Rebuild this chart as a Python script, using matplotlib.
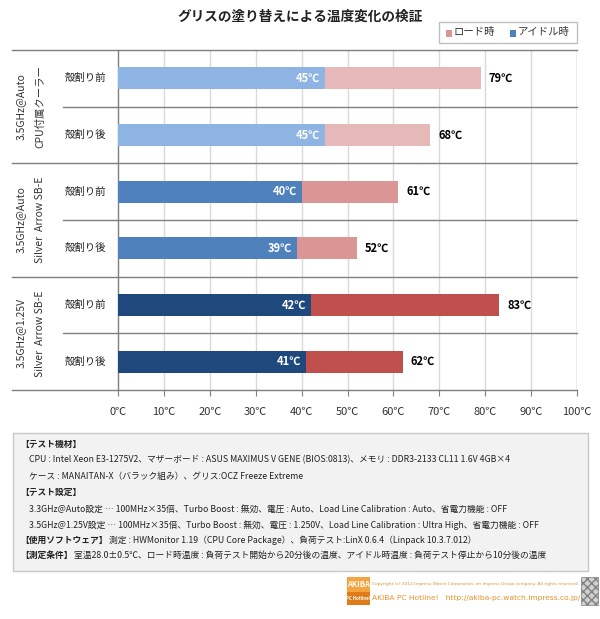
import matplotlib
matplotlib.use("Agg")
import matplotlib.pyplot as plt
from matplotlib.patches import Rectangle
from matplotlib.lines import Line2D
import matplotlib.transforms as mtransforms

plt.rcParams['font.family'] = ['Noto Sans CJK JP', 'DejaVu Sans']

# ---- data ----
title = "グリスの塗り替えによる温度変化の検証"
rows = ["殻割り前", "殻割り後", "殻割り前", "殻割り後", "殻割り前", "殻割り後"]
groups_line1 = ["3.5GHz@Auto", "3.5GHz@Auto", "3.5GHz@1.25V"]
groups_line2 = ["CPU付属クーラー", "Silver  Arrow SB-E", "Silver  Arrow SB-E"]
idle = [45, 45, 40, 39, 42, 41]
load = [79, 68, 61, 52, 83, 62]
xticks = [0, 10, 20, 30, 40, 50, 60, 70, 80, 90, 100]
xtick_labels = [f"{v}℃" for v in xticks]
legend_labels = ["ロード時", "アイドル時"]

idle_colors = ["#8DB4E2", "#8DB4E2", "#4F81BD", "#4F81BD", "#1F497D", "#1F497D"]
load_colors = ["#E6B9B8", "#E6B9B8", "#D99694", "#D99694", "#C0504D", "#C0504D"]

info_lines = [
    ("【テスト機材】", True, 20),
    ("CPU : Intel Xeon E3-1275V2、マザーボード : ASUS MAXIMUS V GENE (BIOS:0813)、メモリ : DDR3-2133 CL11 1.6V 4GB×4", False, 29),
    ("ケース : MANAITAN-X（バラック組み）、グリス:OCZ Freeze Extreme", False, 29),
    ("【テスト設定】", True, 20),
    ("3.3GHz@Auto設定 … 100MHz×35倍、Turbo Boost : 無効、電圧 : Auto、Load Line Calibration : Auto、省電力機能 : OFF", False, 29),
    ("3.5GHz@1.25V設定 … 100MHz×35倍、Turbo Boost : 無効、電圧 : 1.250V、Load Line Calibration : Ultra High、省電力機能 : OFF", False, 29),
]
soft_head = "【使用ソフトウェア】"
soft_body = "測定 : HWMonitor 1.19（CPU Core Package）、負荷テスト:LinX 0.6.4（Linpack 10.3.7.012）"
cond_head = "【測定条件】"
cond_body = "室温28.0±0.5℃、ロード時温度 : 負荷テスト開始から20分後の温度、アイドル時温度 : 負荷テスト停止から10分後の温度"
copyright_text = "Copyright (c) 2012 Impress Watch Corporation, an Impress Group company. All rights reserved."
site_text = "AKIBA PC Hotline!   http://akiba-pc.watch.impress.co.jp/"

W, H = 600, 619
fig = plt.figure(figsize=(W / 100, H / 100), dpi=100)
fig.patch.set_facecolor("white")
fig.canvas.draw()
rend = fig.canvas.get_renderer()


def fx(px):
    return px / W


def fy(py):
    return 1 - py / H


def text_width(t):
    return t.get_window_extent(rend).width


# ---- main axes ----
L, R, T, B = 118, 577, 50, 390
ax = fig.add_axes([fx(L), fy(B), fx(R) - fx(L), fy(T) - fy(B)])
n = len(rows)
ypos = list(range(n))
bh = 0.39
ax.barh(ypos, idle, height=bh, color=idle_colors, zorder=3)
ax.barh(ypos, [l - i for l, i in zip(load, idle)], left=idle, height=bh,
        color=load_colors, zorder=3)
ax.set_xlim(0, 100)
ax.set_ylim(n - 0.5, -0.5)
ax.set_xticks(xticks)
ax.set_xticklabels(xtick_labels, fontsize=8, color="#333333")
ax.set_yticks([])
ax.tick_params(axis="x", length=4, width=0.8, color="#808080", pad=8, direction="out")
for x in xticks[1:]:
    ax.axvline(x, color="#D9D9D9", lw=1, zorder=1)
ax.axvline(100, color="#BFBFBF", lw=1, zorder=1)
for s in ["top", "right", "bottom"]:
    ax.spines[s].set_visible(False)
ax.spines["left"].set_color("#7F7F7F")
ax.spines["left"].set_linewidth(1)

# value labels
for y, (i, l) in enumerate(zip(idle, load)):
    ax.text(i - 1.0, y, f"{i}℃", ha="right", va="center", color="white",
            fontsize=8, fontweight="bold", zorder=4)
    ax.text(l + 1.8, y, f"{l}℃", ha="left", va="center", color="black",
            fontsize=8, fontweight="bold", zorder=4)

# separator lines
blend = mtransforms.blended_transform_factory(ax.transAxes, ax.transData)
x_long = (12 - L) / (R - L)
x_short = (63 - L) / (R - L)
for yb in [-0.5, 1.5, 3.5, 5.5]:
    ax.add_line(Line2D([x_long, 1], [yb, yb], transform=blend, color="#7F7F7F",
                       lw=1, clip_on=False, zorder=2))
for yb in [0.5, 2.5, 4.5]:
    ax.add_line(Line2D([x_short, 1], [yb, yb], transform=blend, color="#7F7F7F",
                       lw=1, clip_on=False, zorder=2))

# row labels
for y, r in enumerate(rows):
    ax.text((65 - L) / (R - L), y, r, transform=blend, ha="left", va="center",
            fontsize=7.5, color="#222222")

# group labels
for g in range(3):
    yc = 2 * g + 0.5
    ax.text((21 - L) / (R - L), yc, groups_line1[g], transform=blend, rotation=90,
            ha="center", va="center", fontsize=7.5, color="#333333")
    ax.text((40 - L) / (R - L), yc, groups_line2[g], transform=blend, rotation=90,
            ha="center", va="center", fontsize=7.5, color="#333333")

# title
fig.text(fx(300), fy(17), title, ha="center", va="center", fontsize=9.8,
         fontweight="bold", color="#222222")

# legend
fig.patches.append(Rectangle((fx(439), fy(43)), fx(577) - fx(439), fy(22) - fy(43),
                             transform=fig.transFigure, facecolor="white",
                             edgecolor="#BFBFBF", lw=1))
fig.patches.append(Rectangle((fx(446), fy(36.5)), fx(6), fy(0) - fy(6),
                             transform=fig.transFigure, facecolor="#D99694", lw=0))
fig.text(fx(454), fy(32.5), legend_labels[0], ha="left", va="center", fontsize=7.5,
         color="#333333")
fig.patches.append(Rectangle((fx(510), fy(36.5)), fx(6), fy(0) - fy(6),
                             transform=fig.transFigure, facecolor="#4F81BD", lw=0))
fig.text(fx(518), fy(32.5), legend_labels[1], ha="left", va="center", fontsize=7.5,
         color="#333333")

# info box
fig.patches.append(Rectangle((fx(13), fy(571)), fx(588) - fx(13), fy(433) - fy(571),
                             transform=fig.transFigure, facecolor="#F2F2F2",
                             edgecolor="#C8C8C8", lw=1))
line_y = [444, 460, 476, 492, 509, 525, 540, 555]

probe = fig.text(0, 0, info_lines[5][0], fontsize=10)
fs_info = 10 * 510 / text_width(probe)
probe.remove()

for (txt, bold, xp), yp in zip(info_lines, line_y):
    fig.text(fx(xp), fy(yp), txt, ha="left", va="center", fontsize=fs_info,
             fontweight="bold" if bold else "normal", color="#222222")
for head, body, yp in [(soft_head, soft_body, line_y[6]), (cond_head, cond_body, line_y[7])]:
    t = fig.text(fx(20), fy(yp), head, ha="left", va="center",
                 fontsize=fs_info, fontweight="bold", color="#222222")
    bb = t.get_window_extent(rend)
    fig.text(bb.x1 / W + fx(1), fy(yp), body, ha="left", va="center",
             fontsize=fs_info, color="#222222")

# footer
orange = "#E8912B"
TX0, TX1 = 372, 579


def fit_text(x0, x1, yp, s, family, weight="normal"):
    pr = fig.text(0, 0, s, fontsize=10, family=family, fontweight=weight)
    fs = 10 * (x1 - x0) / text_width(pr)
    pr.remove()
    fig.text(fx(x0), fy(yp), s, ha="left", va="center", fontsize=fs, color=orange,
             family=family, fontweight=weight)


fit_text(TX0, TX1, 584, copyright_text, "Liberation Sans Narrow")
fit_text(TX0, TX1, 598, site_text, "Liberation Sans Narrow")

LX = TX0 - 25
fig.patches.append(Rectangle((fx(LX), fy(592)), fx(23), fy(577) - fy(592),
                             transform=fig.transFigure, facecolor="#F5A33C", lw=0))
fig.patches.append(Rectangle((fx(LX), fy(605)), fx(23), fy(592) - fy(605),
                             transform=fig.transFigure, facecolor="#E07B1A", lw=0))
fig.text(fx(LX + 11.5), fy(584.5), "AKIBA", ha="center", va="center", fontsize=5.5,
         color="white", fontweight="bold")
fig.text(fx(LX + 11.5), fy(598.5), "PC Hotline!", ha="center", va="center", fontsize=3.1,
         color="white", fontweight="bold")
fig.patches.append(Rectangle((fx(581), fy(605)), fx(17), fy(577) - fy(605),
                             transform=fig.transFigure, facecolor="#D0D0D0",
                             edgecolor="#808080", hatch="xxxx", lw=0.5))

fig.savefig("out.png", dpi=100)
